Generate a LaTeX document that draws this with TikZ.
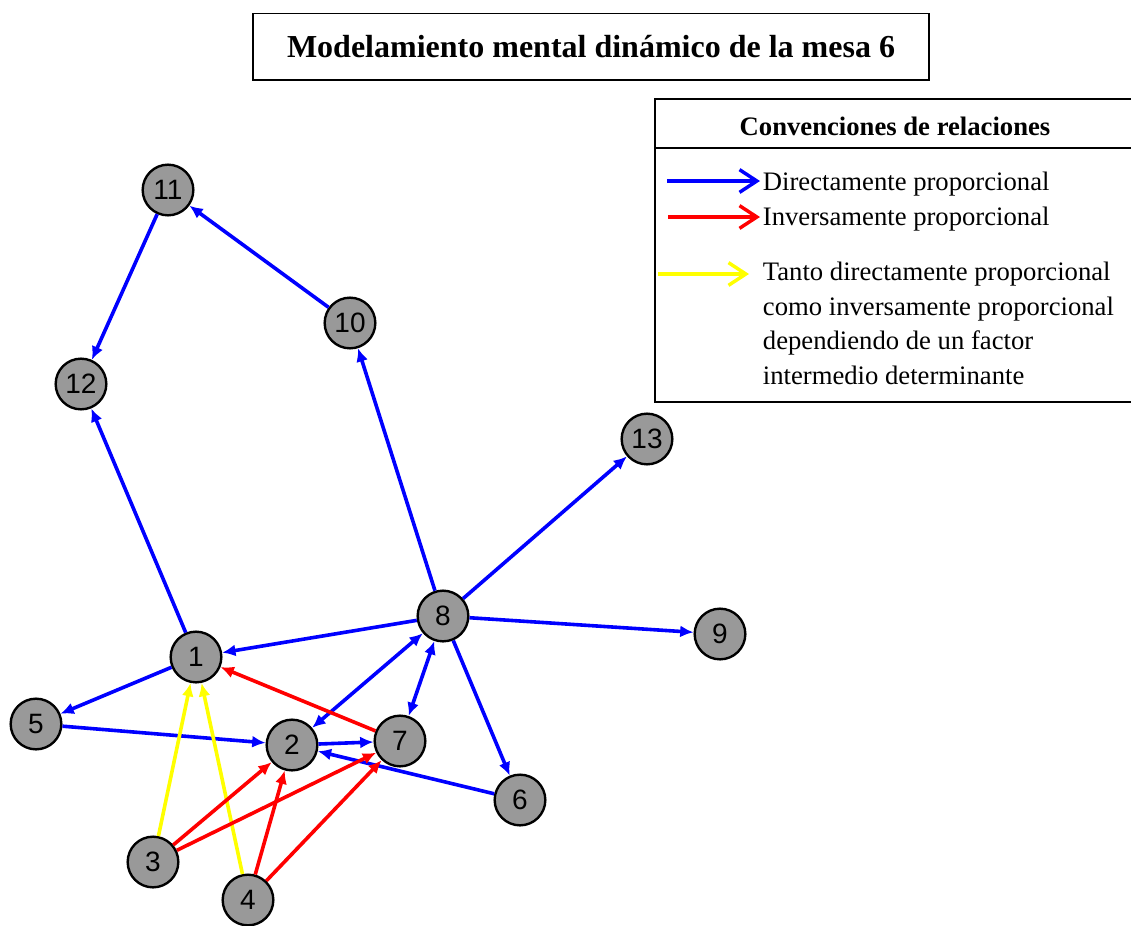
\documentclass[tikz,border=0pt]{standalone}
\usepackage{fontspec}
\setmainfont{Liberation Serif}
\newfontfamily\numfont{Liberation Sans}
\usepackage{xcolor}
\definecolor{ColD}{RGB}{0,0,255}
\definecolor{ColI}{RGB}{255,0,0}
\definecolor{ColT}{RGB}{255,255,0}
\definecolor{ColN}{RGB}{153,153,153}
\usetikzlibrary{arrows.meta}
\tikzstyle{Node}=[circle,draw=black,fill=ColN,line width=1.8pt,
minimum size=38pt,inner sep=0pt,font=\numfont\fontsize{21}{21}\selectfont]
\tikzstyle{Edge}=[line width=2.7pt,-{Latex[length=10pt,width=9pt]}]
\tikzstyle{EdgeD}=[Edge,draw=ColD]
\tikzstyle{EdgeB}=[EdgeD,{Latex[length=10pt,width=9pt]}-{Latex[length=10pt,width=9pt]}]
\tikzstyle{EdgeI}=[Edge,draw=ColI]
\tikzstyle{EdgeT}=[Edge,draw=ColT]
\tikzstyle{Leg}=[line width=2.6pt,-{Straight Barb[length=13pt,width=17pt]}]
\tikzstyle{LegText}=[anchor=west,inner sep=2pt,font=\fontsize{20}{26}\selectfont]

\begin{document}
\begin{tikzpicture}[x=0.75pt,y=-0.75pt]
        \useasboundingbox (0,0) rectangle (1131,925);
        % title
        \node[draw,line width=1pt,minimum width=507pt,minimum height=50pt,
            font=\bfseries\fontsize{24}{24}\selectfont](title)at(591,46.5)
            {Modelamiento mental dinámico de la mesa 6};
        % legend
        \draw[line width=1.5pt](1131,99)-|(655,402)--(1131,402);
        \draw[line width=1.5pt](655,148)--(1131,148);
        \node[font=\bfseries\fontsize{20}{20}\selectfont](hdr)at(895,126)
            {Convenciones de relaciones};
        \node[LegText](lD)at(760,184){Directamente proporcional};
        \node[LegText](lI)at(760,219){Inversamente proporcional};
        \node[LegText,anchor=north west,align=left](lT)at(760,259)
            {Tanto directamente proporcional\\como inversamente proporcional\\
            dependiendo de un factor\\intermedio determinante};
        \coordinate(aD)at(667,181);
        \coordinate(aI)at(668,217);
        \coordinate(aT)at(658,274);
        \coordinate(bT)at(749,274);
        \draw[Leg,draw=ColD](aD)--(lD.west|-aD);
        \draw[Leg,draw=ColI](aI)--(lI.west|-aI);
        \draw[Leg,draw=ColT](aT)--(bT);
        % nodes
        \node[Node](1)at(196,657){1};
        \node[Node](2)at(292,745){2};
        \node[Node](3)at(153,862){3};
        \node[Node](4)at(248,900){4};
        \node[Node](5)at(36,724){5};
        \node[Node](6)at(520,800){6};
        \node[Node](7)at(400,741){7};
        \node[Node](8)at(443,616){8};
        \node[Node](9)at(720,634){9};
        \node[Node](10)at(350,323){10};
        \node[Node](11)at(168,190){11};
        \node[Node](12)at(81,384){12};
        \node[Node](13)at(647,439){13};
        % edges
        \draw[EdgeD](8)--(1);
        \draw[EdgeB](8)--(2);
        \draw[EdgeB](8)--(7);
        \draw[EdgeD](8)--(6);
        \draw[EdgeD](8)--(9);
        \draw[EdgeD](8)--(13);
        \draw[EdgeD](8)--(10);
        \draw[EdgeD](10)--(11);
        \draw[EdgeD](11)--(12);
        \draw[EdgeD](1)--(12);
        \draw[EdgeD](1)--(5);
        \draw[EdgeD](5)--(2);
        \draw[EdgeD](2)--(7);
        \draw[EdgeD](6)--(2);
        \draw[EdgeI](7)--(1);
        \draw[EdgeT](3)--(1);
        \draw[EdgeT](4)--(1);
        \draw[EdgeI](3)--(2);
        \draw[EdgeI](3)--(7);
        \draw[EdgeI](4)--(2);
        \draw[EdgeI](4)--(7);
    \end{tikzpicture}
\end{document}
